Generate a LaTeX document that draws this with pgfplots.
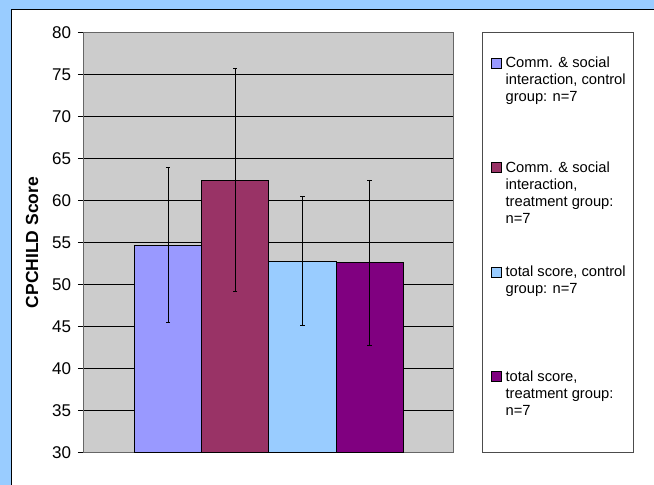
\documentclass[border=0pt]{standalone}
\usepackage{fontspec}
\setmainfont{Liberation Sans}
\usepackage{pgfplots}
\pgfplotsset{compat=1.18}
\definecolor{bgblue}{HTML}{99CCFF}
\definecolor{plotgray}{HTML}{CCCCCC}
\definecolor{cA}{HTML}{9999FF}
\definecolor{cB}{HTML}{993366}
\definecolor{cC}{HTML}{99CCFF}
\definecolor{cD}{HTML}{800080}
\newcommand\leg[1]{\parbox[t]{128pt}{\raggedright\strut #1}}
\pgfplotsset{legsq/.style={legend image code/.code={\draw[fill=#1,draw=black,line width=0.6pt] (0pt,-0.3pt) rectangle (10pt,9.7pt);}}}
\begin{document}
\begin{tikzpicture}[x=1pt,y=1pt]
\path[use as bounding box] (0,0) rectangle (654,485);
\fill[bgblue] (0,0) rectangle (654,485);
\fill[white] (11.5,0) rectangle (654,476);
\draw[black, line width=0.8pt] (11.5,0) -- (11.5,476) -- (654,476);
\begin{axis}[
  at={(84pt,32.7pt)}, anchor=south west,
  scale only axis, width=369.7pt, height=419.6pt,
  xmin=0, xmax=2, ymin=30, ymax=80,
  xtick=\empty,
  ytick={30,35,...,80},
  ytick pos=left,
  tick align=outside, major tick length=6pt,
  ytick style={black, line width=0.7pt},
  ymajorgrids, major grid style={black, line width=0.7pt},
  axis background/.style={fill=plotgray},
  axis line style={draw=black!60, line width=1pt},
  ybar=0pt, bar width=67.2pt,
  /pgf/number format/assume math mode=true,
  yticklabel style={font=\fontsize{17}{20}\selectfont, xshift=-3.5pt},
  ylabel={CPCHILD Score},
  every axis y label/.style={at={(axis description cs:-0.1407,0.5)}, rotate=90, anchor=center, font=\bfseries\fontsize{17.5}{20}\selectfont},
  legend cell align=left,
  legend style={at={(axis description cs:1.1017,1)}, yshift=-22.8pt, anchor=north west,
    draw=none, fill=none, inner sep=0pt,
    font=\fontsize{14.7}{17}\selectfont,
    cells={anchor=base west},
    nodes={inner sep=0pt, text height=11.9pt, text depth=92.6pt},
    /tikz/column sep=3.5pt, /tikz/row sep=0pt},
  extra description/.code={\draw[black!70, line width=0.8pt] (axis description cs:1.0774,0) rectangle (axis description cs:1.4858,1);},
  error bars/error bar style={black, line width=0.8pt, solid},
  error bars/error mark options={rotate=90, black, line width=0.8pt, mark size=2.2pt},
]
\addplot[fill=cA, draw=black, line width=0.8pt, legsq=cA, error bars/.cd, y dir=both, y explicit] coordinates {(1,54.7) +- (0,9.27)};
\addlegendentry{\leg{Comm. \& social\newline interaction, control\newline group: n=7}}
\addplot[fill=cB, draw=black, line width=0.8pt, legsq=cB, error bars/.cd, y dir=both, y explicit] coordinates {(1,62.45) +- (0,13.3)};
\addlegendentry{\leg{Comm. \& social\newline interaction,\newline treatment group:\newline n=7}}
\addplot[fill=cC, draw=black, line width=0.8pt, legsq=cC, error bars/.cd, y dir=both, y explicit] coordinates {(1,52.8) +- (0,7.7)};
\addlegendentry{\leg{total score, control\newline group: n=7}}
\addplot[fill=cD, draw=black, line width=0.8pt, legsq=cD, error bars/.cd, y dir=both, y explicit] coordinates {(1,52.6) +- (0,9.85)};
\addlegendentry{\leg{total score,\newline treatment group:\newline n=7}}
\end{axis}
\end{tikzpicture}
\end{document}
